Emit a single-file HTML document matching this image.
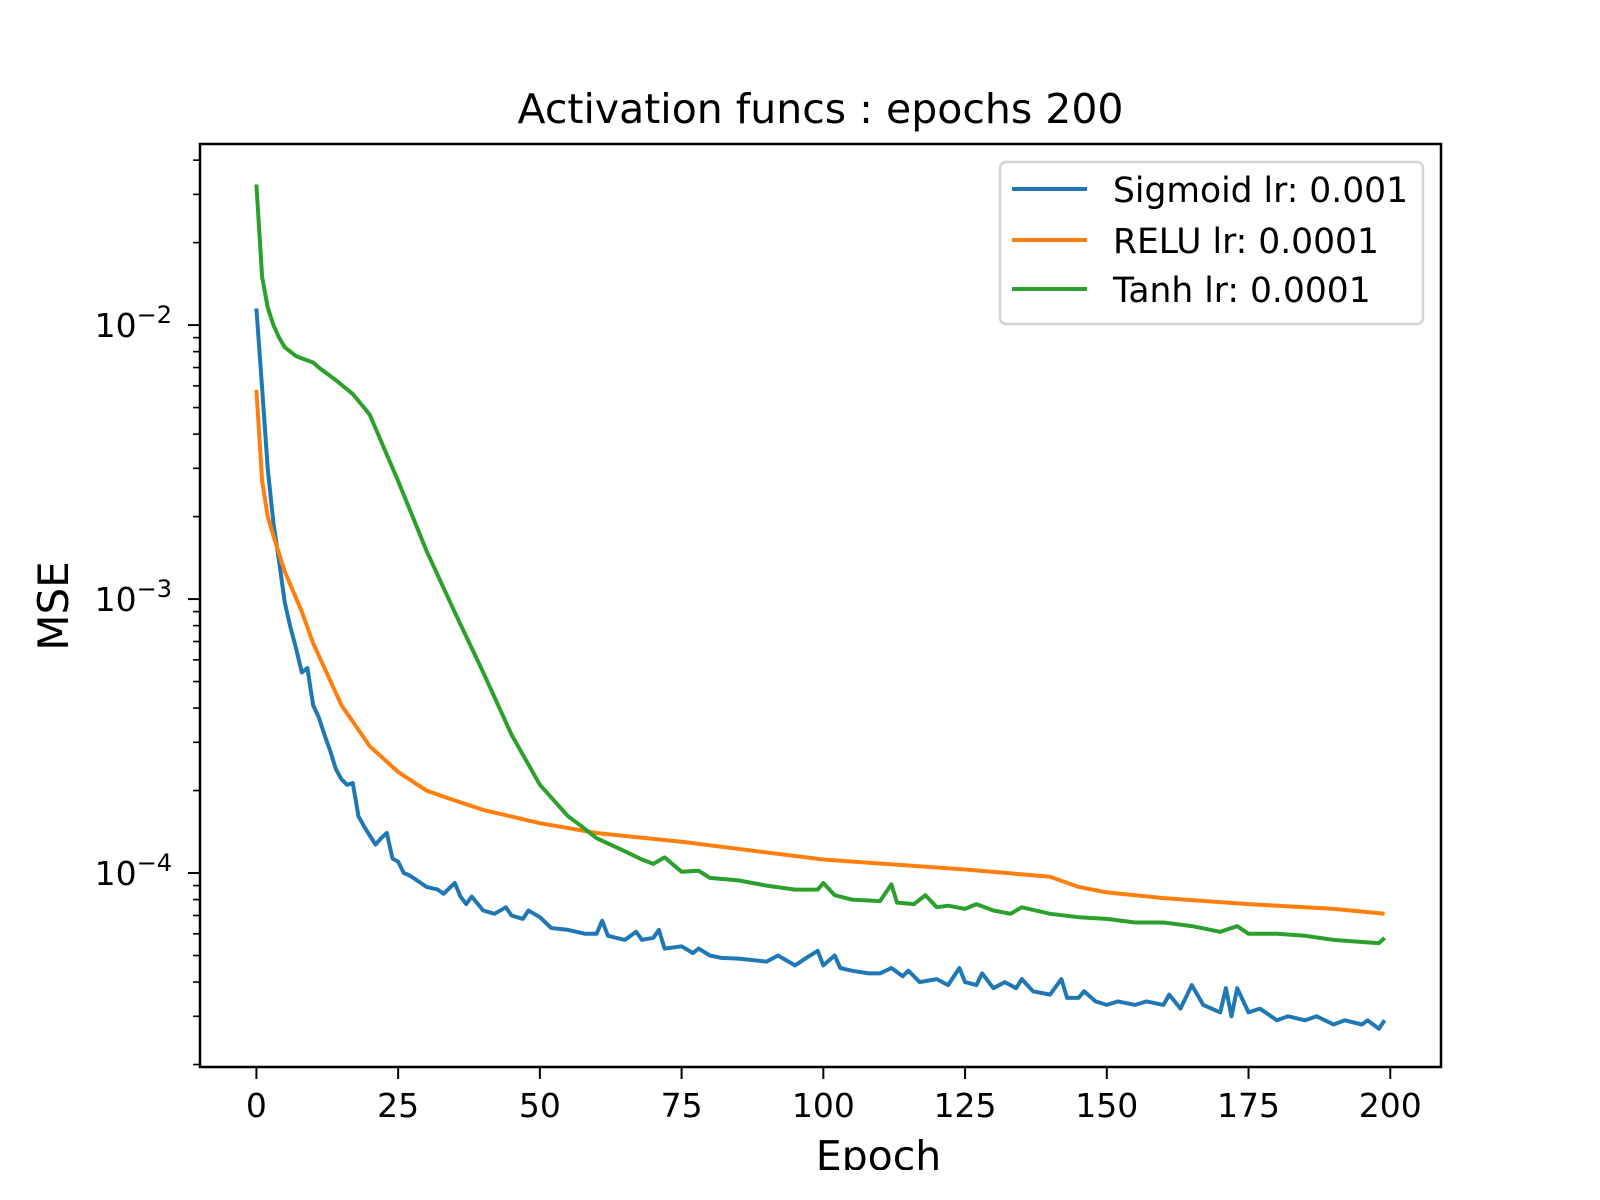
<!DOCTYPE html>
<html><head><meta charset="utf-8"><style>
html,body{margin:0;padding:0;background:#fff;}
svg{display:block;font-family:"DejaVu Sans","Liberation Sans",sans-serif;}
</style></head><body>
<svg id="chart" width="1600" height="1200" viewBox="0 0 1600 1200" xmlns="http://www.w3.org/2000/svg"></svg>
<script>
const xTicks = [0, 25, 50, 75, 100, 125, 150, 175, 200];
const yMajorExps = [-4, -3, -2];
const seriesNames = ["Sigmoid lr: 0.001", "RELU lr: 0.0001", "Tanh lr: 0.0001"];
const sigmoidEpochs = [0,1,2,3,4,5,6,7,8,9,10,11,12,13,14,15,16,17,18,19,20,21,22,23,24,25,26,27,28,30,32,33,35,36,37,38,40,42,44,45,47,48,50,52,55,58,60,61,62,65,67,68,70,71,72,75,77,78,80,82,85,88,90,92,95,97,99,100,102,103,105,108,110,112,114,115,117,120,122,124,125,127,128,130,132,134,135,137,140,142,143,145,146,148,150,152,155,157,160,161,163,165,167,170,171,172,173,175,177,180,182,185,187,190,192,195,196,198,199];
const sigmoidValues = [0.0115,0.0059,0.0030,0.0019,0.00137,0.00097,0.00079,0.00066,0.00054,0.00056,0.00041,0.00037,0.00032,0.00028,0.00024,0.00022,0.00021,0.000213,0.000161,0.000148,0.000137,0.000127,0.000134,0.00014,0.000113,0.00011,0.0001,0.000098,0.000095,0.000089,0.000087,0.000084,0.000092,0.000082,0.000077,0.000082,0.000073,0.000071,0.000075,0.00007,0.000068,0.000073,0.000069,0.000063,0.000062,0.00006,0.00006,0.000067,0.000059,0.000057,0.000061,0.000057,0.000058,0.000062,0.000053,0.000054,0.000051,0.000053,0.000050,0.000049,0.0000487,0.000048,0.0000475,0.00005,0.000046,0.000049,0.000052,0.000046,0.000050,0.000045,0.000044,0.000043,0.000043,0.000045,0.000042,0.000044,0.000040,0.000041,0.000039,0.000045,0.000040,0.000039,0.000043,0.000038,0.000040,0.000038,0.000041,0.000037,0.000036,0.000041,0.000035,0.000035,0.000037,0.000034,0.000033,0.000034,0.000033,0.000034,0.000033,0.000036,0.000032,0.000039,0.000033,0.000031,0.000038,0.000030,0.000038,0.000031,0.000032,0.000029,0.000030,0.000029,0.000030,0.000028,0.000029,0.000028,0.000029,0.000027,0.000029];
const reluEpochs = [0,1,2,3,5,8,10,15,20,25,30,35,40,50,60,75,100,125,140,145,150,160,175,190,199];
const reluValues = [0.0058,0.0027,0.0020,0.0017,0.00126,0.0009,0.00069,0.00041,0.00029,0.000234,0.0002,0.000184,0.00017,0.000152,0.00014,0.00013,0.000112,0.000103,0.000097,0.000089,0.000085,0.000081,0.000077,0.000074,0.000071];
const tanhEpochs = [0,1,2,3,4,5,7,10,11,14,17,19,20,25,30,35,40,45,50,55,57,60,65,68,70,72,75,78,80,85,90,95,99,100,102,105,110,112,113,116,118,120,122,125,127,130,133,135,140,145,150,155,160,165,170,173,175,180,185,190,195,198,199];
const tanhValues = [0.0326,0.015,0.0116,0.010,0.0090,0.0083,0.0077,0.0073,0.0070,0.0063,0.0056,0.0050,0.0047,0.0027,0.0015,0.000895,0.00054,0.00032,0.00021,0.000161,0.00015,0.000134,0.00012,0.000112,0.000108,0.000114,0.000101,0.000102,0.000096,0.000094,0.00009,0.000087,0.000087,0.000092,0.000083,0.00008,0.000079,0.000091,0.000078,0.000077,0.000083,0.000075,0.000076,0.000074,0.000077,0.000073,0.000071,0.000075,0.000071,0.000069,0.000068,0.000066,0.000066,0.000064,0.000061,0.000064,0.000060,0.000060,0.000059,0.000057,0.000056,0.0000555,0.000058];

const NS = "http://www.w3.org/2000/svg";
const svg = document.getElementById("chart");
const L = 200, R = 1441, T = 144, B = 1067;
const xMin = -9.95, xMax = 208.95;
const lMin = -4.708, lMax = -1.339;
function xs(v){ return L + (v - xMin) / (xMax - xMin) * (R - L); }
function ys(v){ return B - (Math.log10(v) - lMin) / (lMax - lMin) * (B - T); }
function mk(tag, attrs, parent){
  const e = document.createElementNS(NS, tag);
  for (const k in attrs) e.setAttribute(k, attrs[k]);
  (parent || svg).appendChild(e);
  return e;
}

// title
const title = mk("text", {x: (L+R)/2, y: 123, "text-anchor": "middle", "font-size": 41, fill: "#000"});
title.textContent = "Activation funcs : epochs 200";



// series
const colors = ["#1f77b4", "#ff7f0e", "#2ca02c"];
const allEpochs = [sigmoidEpochs, reluEpochs, tanhEpochs];
const allValues = [sigmoidValues, reluValues, tanhValues];
const lineNames = ["sigmoid-line", "relu-line", "tanh-line"];
const clip = mk("clipPath", {id: "plotclip"});
mk("rect", {x: L, y: T, width: R-L, height: B-T}, clip);
for (let s = 0; s < 3; s++){
  const pts = allEpochs[s].map((e, i) => xs(e).toFixed(1) + "," + ys(allValues[s][i]).toFixed(1)).join(" ");
  const pl = mk("polyline", {points: pts, fill: "none", stroke: colors[s], "stroke-width": 4, "stroke-linejoin": "round", "clip-path": "url(#plotclip)"});
  
  
}

// axes frame
const frame = mk("rect", {x: L, y: T, width: R-L, height: B-T, fill: "none", stroke: "#000", "stroke-width": 2.5});



// x ticks
xTicks.forEach(t => {
  const x = xs(t);
  mk("line", {x1: x, y1: B, x2: x, y2: B + 12, stroke: "#000", "stroke-width": 2});
  const lb = mk("text", {x: x, y: 1117, "text-anchor": "middle", "font-size": 33, fill: "#000"});
  lb.textContent = String(t);
  
  
});

// y ticks (log)
for (let k = -5; k <= -1; k++){
  for (let m = 1; m <= 9; m++){
    const v = m * Math.pow(10, k);
    const lv = Math.log10(v);
    if (lv < lMin || lv > lMax) continue;
    const y = ys(v);
    mk("line", {x1: L - (m === 1 ? 12 : 7), y1: y, x2: L, y2: y, stroke: "#000", "stroke-width": m === 1 ? 2 : 1.6});
  }
}
yMajorExps.forEach(k => {
  const y = ys(Math.pow(10, k));
  const lb = mk("text", {x: 172, y: y + 12, "text-anchor": "end", "font-size": 33, fill: "#000"});
  
  
  const base = mk("tspan", {}, lb); base.textContent = "10";
  const sup = mk("tspan", {dy: -14, "font-size": 24}, lb); sup.textContent = "\u2212" + Math.abs(k);
});

// axis labels
const xl = mk("text", {x: (L+R)/2 + 58, y: 1170, "text-anchor": "middle", "font-size": 41, fill: "#000"});
xl.textContent = "Epoch";


mk("rect", {x: 0, y: 1170, width: 1600, height: 30, fill: "#fff"});
const yl = mk("text", {x: 0, y: 0, "text-anchor": "middle", "font-size": 42, fill: "#000", transform: "translate(68,606) rotate(-90)"});
yl.textContent = "MSE";



// legend
const lg = mk("g", {});


mk("rect", {x: 1000, y: 162, width: 423, height: 162, rx: 6, fill: "#fff", stroke: "#d0d0d0", "stroke-width": 2.5, opacity: 0.9}, lg);
const rowY = [189, 240, 289];
for (let s = 0; s < 3; s++){
  const entry = mk("g", {}, lg);
  
  
  mk("line", {x1: 1012, y1: rowY[s], x2: 1087, y2: rowY[s], stroke: colors[s], "stroke-width": 4}, entry);
  const t = mk("text", {x: 1113, y: rowY[s] + 13, "font-size": 34.5, fill: "#000"}, entry);
  t.textContent = seriesNames[s];
}
</script>
</body></html>
